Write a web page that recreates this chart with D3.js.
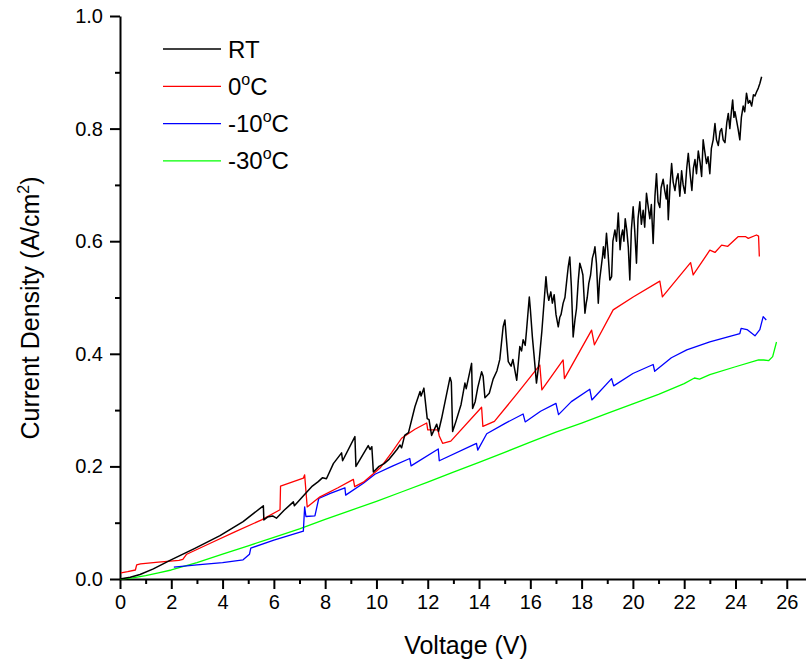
<!DOCTYPE html>
<html>
<head>
<meta charset="utf-8">
<script src="https://cdn.jsdelivr.net/npm/d3@7"></script>
<style>
  body { margin: 0; background: #fff; }
  svg { display: block; }
</style>
</head>
<body>
<div id="chart"></div>
<script>
const FONT = '"Liberation Sans", Arial, sans-serif';

// [voltage (V), current density (A/cm2)]
const rtData = [
  [0,0],[0.4,0.003],[0.78,0.008],[1.3,0.018],[1.95,0.033],[2.9,0.054],[3.9,0.077],[4.8,0.102],[5.59,0.13],
  [5.61,0.105],[5.75,0.11],[5.95,0.112],[6.1,0.108],[6.4,0.122],[6.76,0.137],[6.8,0.13],[7.1,0.145],[7.5,0.165],
  [7.73,0.173],[7.9,0.18],[8.05,0.178],[8.32,0.205],[8.64,0.224],[8.68,0.21],[9.16,0.253],[9.2,0.2],[9.68,0.237],
  [9.75,0.23],[9.82,0.235],[9.88,0.19],[10.1,0.2],[10.3,0.205],[10.5,0.213],[10.66,0.222],[10.8,0.23],[10.92,0.238],
  [10.98,0.233],[11.1,0.255],[11.25,0.26],[11.5,0.306],[11.7,0.333],[11.74,0.325],[11.85,0.339],[11.98,0.285],
  [12.05,0.283],[12.15,0.255],[12.28,0.268],[12.35,0.275],[12.42,0.262],[12.54,0.285],[12.87,0.358],[12.92,0.35],
  [12.97,0.262],[13.1,0.28],[13.3,0.31],[13.45,0.348],[13.5,0.338],[13.71,0.383],[13.75,0.303],[13.85,0.315],
  [13.95,0.34],[14.1,0.368],[14.16,0.36],[14.23,0.322],[14.4,0.33],[14.55,0.355],[14.7,0.37],[14.81,0.39],
  [14.94,0.448],[15.01,0.46],[15.06,0.43],[15.14,0.386],[15.25,0.378],[15.32,0.39],[15.4,0.37],[15.47,0.353],[15.59,0.413],
  [15.66,0.405],[15.72,0.425],[15.8,0.415],[15.85,0.44],[15.96,0.501],[16.0,0.48],[16.08,0.43],[16.15,0.395],[16.24,0.348],
  [16.3,0.37],[16.35,0.39],[16.45,0.44],[16.55,0.5],[16.61,0.537],[16.66,0.51],[16.72,0.495],[16.8,0.51],[16.86,0.49],
  [16.93,0.505],[17.0,0.47],[17.09,0.448],[17.15,0.465],[17.2,0.47],[17.28,0.49],[17.35,0.5],[17.42,0.53],
  [17.48,0.555],[17.54,0.572],[17.6,0.52],[17.67,0.43],[17.74,0.46],[17.8,0.48],[17.87,0.53],[17.93,0.561],
  [18.0,0.55],[18.05,0.54],[18.13,0.472],[18.18,0.49],[18.22,0.5],[18.28,0.525],[18.35,0.54],[18.42,0.57],
  [18.48,0.58],[18.52,0.59],[18.58,0.56],[18.65,0.49],[18.7,0.53],[18.78,0.56],[18.82,0.575],[18.85,0.59],
  [18.9,0.57],[18.97,0.614],[19.03,0.58],[19.1,0.531],[19.17,0.537],[19.22,0.6],[19.3,0.62],[19.36,0.6],
  [19.43,0.65],[19.5,0.585],[19.55,0.61],[19.6,0.62],[19.65,0.6],[19.7,0.64],[19.76,0.62],[19.82,0.59],
  [19.88,0.531],[19.94,0.62],[20.01,0.661],[20.07,0.62],[20.14,0.561],[20.2,0.64],[20.27,0.67],[20.33,0.63],
  [20.4,0.655],[20.46,0.625],[20.53,0.685],[20.6,0.66],[20.66,0.64],[20.72,0.665],[20.79,0.596],[20.86,0.68],
  [20.92,0.72],[20.98,0.67],[21.05,0.66],[21.1,0.695],[21.18,0.71],[21.24,0.69],[21.3,0.675],[21.34,0.7],
  [21.38,0.638],[21.45,0.7],[21.51,0.738],[21.57,0.705],[21.64,0.69],[21.7,0.71],[21.76,0.72],[21.83,0.68],
  [21.9,0.725],[21.96,0.7],[22.03,0.685],[22.1,0.73],[22.16,0.756],[22.23,0.72],[22.3,0.69],[22.36,0.73],
  [22.42,0.745],[22.48,0.72],[22.55,0.76],[22.62,0.74],[22.68,0.715],[22.74,0.78],[22.8,0.76],[22.87,0.738],
  [22.93,0.75],[23.0,0.72],[23.06,0.765],[23.13,0.78],[23.2,0.809],[23.26,0.78],[23.33,0.77],[23.4,0.795],
  [23.46,0.8],[23.52,0.78],[23.59,0.775],[23.66,0.81],[23.72,0.827],[23.78,0.8],[23.84,0.83],[23.89,0.851],
  [23.94,0.82],[23.98,0.83],[24.04,0.815],[24.1,0.8],[24.17,0.78],[24.23,0.82],[24.3,0.84],[24.36,0.83],
  [24.43,0.863],[24.5,0.845],[24.56,0.85],[24.63,0.84],[24.7,0.86],[24.76,0.858],[24.82,0.865],[24.89,0.872],
  [24.95,0.88],[25.02,0.892]
];

const zeroData = [
  [0.04,0.011],[0.3,0.013],[0.6,0.016],[0.65,0.025],[0.8,0.027],[1.5,0.030],[2.3,0.033],[2.45,0.035],[2.6,0.044],
  [3.5,0.063],[4.5,0.084],[5.52,0.105],[6.24,0.123],[6.26,0.165],[6.76,0.173],[7.15,0.179],[7.2,0.185],[7.3,0.128],
  [7.8,0.146],[8.5,0.162],[9.1,0.177],[9.15,0.164],[9.49,0.172],[10.14,0.197],[10.6,0.225],[10.98,0.25],[11.5,0.266],
  [11.96,0.277],[12.0,0.265],[12.4,0.265],[12.45,0.254],[12.58,0.241],[12.9,0.245],[14.1,0.305],[14.15,0.271],
  [14.6,0.280],[15.5,0.33],[16.37,0.38],[16.45,0.336],[17.28,0.389],[17.33,0.356],[18.39,0.442],[18.5,0.416],
  [19.23,0.478],[20.01,0.501],[21.05,0.529],[21.15,0.501],[22.25,0.562],[22.35,0.54],[23.0,0.584],[23.2,0.58],
  [23.46,0.593],[23.7,0.591],[24.1,0.608],[24.4,0.608],[24.5,0.605],[24.82,0.611],[24.9,0.609],[24.93,0.573]
];

const minus10Data = [
  [2.1,0.021],[3,0.025],[4,0.029],[4.8,0.034],[5.05,0.044],[5.1,0.055],[6,0.069],[7.15,0.085],[7.2,0.128],
  [7.25,0.111],[7.6,0.112],[7.75,0.143],[8.2,0.152],[8.77,0.162],[8.8,0.149],[9.49,0.170],[9.94,0.186],[10.6,0.200],
  [11.3,0.214],[11.35,0.201],[12.41,0.231],[12.45,0.210],[13.9,0.241],[13.95,0.229],[14.3,0.258],[15.0,0.276],
  [15.72,0.293],[15.8,0.279],[16.4,0.298],[17.0,0.312],[17.1,0.292],[17.6,0.315],[18.32,0.337],[18.4,0.318],
  [19.17,0.356],[19.25,0.343],[20.0,0.365],[20.79,0.381],[20.85,0.369],[21.5,0.393],[22.1,0.407],[23.0,0.421],
  [24.17,0.436],[24.22,0.445],[24.45,0.443],[24.76,0.432],[24.95,0.443],[25.08,0.466],[25.2,0.46]
];

const minus30Data = [
  [0,0],[0.5,0.002],[1,0.006],[1.5,0.011],[2,0.016],[3,0.029],[4,0.044],[5,0.059],[6,0.074],[7,0.089],[8,0.106],
  [9,0.122],[10,0.138],[11,0.155],[12,0.172],[13,0.19],[14,0.207],[15,0.225],[16,0.243],[17,0.261],[18,0.277],
  [19,0.294],[20,0.311],[21,0.328],[22,0.347],[22.4,0.357],[22.6,0.355],[23,0.363],[24,0.377],[24.9,0.389],
  [25.1,0.389],[25.3,0.388],[25.45,0.395],[25.6,0.421]
];

const seriesNames = ['RT', '0', '-10', '-30'];
const seriesColors = ['#000000', '#ff0000', '#0000ff', '#00ff00'];
const xTicks = [0, 2, 4, 6, 8, 10, 12, 14, 16, 18, 20, 22, 24, 26];
const yTicks = [0.0, 0.2, 0.4, 0.6, 0.8, 1.0];

const width = 806, height = 663;
const svg = d3.select('#chart').append('svg')
  .attr('width', width)
  .attr('height', height)
  .style('font-family', FONT);

const x = d3.scaleLinear().domain([0, 26.75]).range([120, 806]);
const y = d3.scaleLinear().domain([0, 1]).range([579, 16]);

// minor ticks
svg.append('g')
  .attr('transform', 'translate(0,579)')
  .call(d3.axisBottom(x).tickValues(d3.range(1, 27, 2)).tickSize(5).tickFormat('').tickSizeOuter(0))
  .call(g => g.select('.domain').remove())
  .call(g => g.selectAll('line').attr('stroke-width', 2));
svg.append('g')
  .attr('transform', 'translate(120,0)')
  .call(d3.axisLeft(y).tickValues([0.1, 0.3, 0.5, 0.7, 0.9]).tickSize(5).tickFormat('').tickSizeOuter(0))
  .call(g => g.select('.domain').remove())
  .call(g => g.selectAll('line').attr('stroke-width', 2));

// major axes
const xAxis = svg.append('g')
  .attr('transform', 'translate(0,579)')
  .call(d3.axisBottom(x).tickValues(xTicks).tickSize(10).tickPadding(6).tickSizeOuter(0));
const yAxis = svg.append('g')
  .attr('transform', 'translate(120,0)')
  .call(d3.axisLeft(y).tickValues(yTicks).tickSize(10).tickPadding(7).tickFormat(d3.format('.1f')).tickSizeOuter(0));

[xAxis, yAxis].forEach(a => {
  a.attr('font-family', FONT);
  a.select('.domain').attr('stroke-width', 2);
  a.selectAll('line').attr('stroke-width', 2);
  a.selectAll('text').attr('font-size', 20).attr('fill', '#000');
});

// lines
const line = d3.line().x(d => x(d[0])).y(d => y(d[1]));
const allSeries = [rtData, zeroData, minus10Data, minus30Data];
// draw green first so black sits on top
[3, 2, 1, 0].forEach(i => {
  svg.append('path')
    .datum(allSeries[i])
    .attr('fill', 'none')
    .attr('stroke', seriesColors[i])
    .attr('stroke-width', i === 0 ? 1.5 : 1.3)
    .attr('stroke-linejoin', 'round')
    .attr('d', line);
});

// axis titles
svg.append('text')
  .attr('x', 466).attr('y', 654)
  .attr('text-anchor', 'middle')
  .attr('font-size', 25)
  .text('Voltage (V)');

const yt = svg.append('text')
  .attr('transform', 'translate(39,308) rotate(-90)')
  .attr('text-anchor', 'middle')
  .attr('font-size', 25);
yt.append('tspan').text('Current Density (A/cm');
yt.append('tspan').attr('font-size', 16).attr('dy', -10).text('2');
yt.append('tspan').attr('dy', 10).text(')');

// legend
const legend = svg.append('g');
seriesNames.forEach((name, i) => {
  const ly = 49 + i * 37.3;
  legend.append('line')
    .attr('x1', 163).attr('x2', 221)
    .attr('y1', ly).attr('y2', ly)
    .attr('stroke', seriesColors[i])
    .attr('stroke-width', 1.3);
  const t = legend.append('text')
    .attr('x', 228).attr('y', ly + 8.5)
    .attr('font-size', 24);
  if (name === 'RT') {
    t.text(name);
  } else {
    t.append('tspan').text(name);
    t.append('tspan').attr('font-size', 16).attr('dy', -10).text('o');
    t.append('tspan').attr('dy', 10).text('C');
  }
});
</script>
</body>
</html>
